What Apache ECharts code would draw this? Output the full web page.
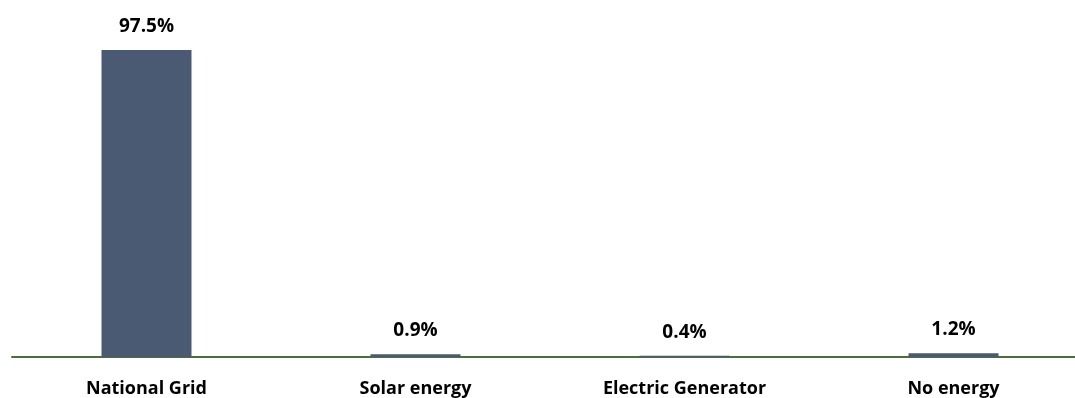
<!DOCTYPE html>
<html><head><meta charset="utf-8">
<script src="https://cdn.jsdelivr.net/npm/echarts@6/dist/echarts.min.js"></script>
<style>html,body{margin:0;padding:0;background:#fff}#c{width:1075px;height:398px}</style>
</head><body><div id="c"></div>
<script>
const categories = ["National Grid", "Solar energy", "Electric Generator", "No energy"];
const values = [97.5, 0.9, 0.4, 1.2];
const chart = echarts.init(document.getElementById('c'), null, {renderer: 'canvas'});
chart.setOption({
  animation: false,
  grid: {left: 12, width: 1076, top: 42, bottom: 41, containLabel: false, outerBoundsMode: 'none'},
  xAxis: {
    type: 'category', data: categories,
    axisLine: {lineStyle: {color: '#4f6d3a', width: 2}},
    axisTick: {show: false},
    axisLabel: {color: '#000', fontFamily: 'Open Sans', fontWeight: 'bold', fontSize: 18, margin: 23}
  },
  yAxis: {type: 'value', min: 0, max: 100, show: false, splitLine: {show: false}},
  series: [{
    type: 'bar', data: values, barWidth: 90,
    itemStyle: {color: '#4a5a72'},
    label: {show: true, position: 'top', distance: 14, formatter: p => p.value.toFixed(1) + '%',
      color: '#000', fontFamily: 'Open Sans', fontWeight: 'bold', fontSize: 19}
  }]
});
</script></body></html>
